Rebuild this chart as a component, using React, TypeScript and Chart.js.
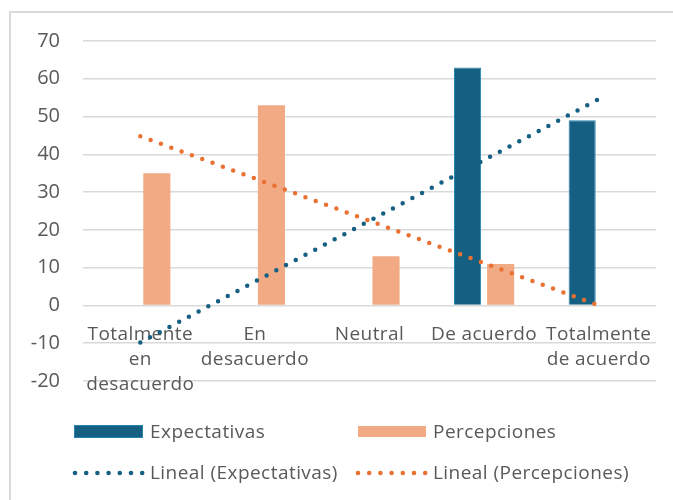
import React, { useEffect, useRef } from "react";
import { Chart, registerables } from "chart.js";

Chart.register(...registerables);

const categories: string[][] = [
  ["Totalmente", "en", "desacuerdo"],
  ["En", "desacuerdo"],
  ["Neutral"],
  ["De acuerdo"],
  ["Totalmente", "de acuerdo"],
];
const expectativas = [0, 0, 0, 63, 49];
const percepciones = [35, 53, 13, 11, 0];
const yMin = -20;
const yMax = 70;
const yStep = 10;

const seriesNames = ["Expectativas", "Percepciones"];
const trendNames = ["Lineal (Expectativas)", "Lineal (Percepciones)"];

const BLUE = "#156082";
const BLUE_BORDER = "#2683b0";
const PEACH = "#F2AA84";
const ORANGE = "#E97132";
const TEXT = "#595959";
const GRID = "#d9d9d9";
const FONT = "'Open Sans', sans-serif";
const FS = 19;

function linearTrend(values: number[]): number[] {
  const n = values.length;
  const xs = values.map((_, i) => i + 1);
  const mx = xs.reduce((a, b) => a + b, 0) / n;
  const my = values.reduce((a, b) => a + b, 0) / n;
  let num = 0;
  let den = 0;
  for (let i = 0; i < n; i++) {
    num += (xs[i] - mx) * (values[i] - my);
    den += (xs[i] - mx) * (xs[i] - mx);
  }
  const slope = num / den;
  const intercept = my - slope * mx;
  return xs.map((x) => intercept + slope * x);
}

const decorPlugin = {
  id: "decor",
  beforeDraw(chart: any) {
    const ctx = chart.ctx;
    ctx.save();
    ctx.strokeStyle = GRID;
    ctx.lineWidth = 2;
    ctx.beginPath();
    ctx.moveTo(10, 500);
    ctx.lineTo(10, 12);
    ctx.lineTo(673, 12);
    ctx.stroke();
    ctx.restore();
  },
  beforeDatasetsDraw(chart: any) {
    const ctx = chart.ctx;
    const x = chart.scales.x;
    const y = chart.scales.y;
    const zero = y.getPixelForValue(0);
    ctx.save();
    ctx.fillStyle = TEXT;
    ctx.font = `${FS}px ${FONT}`;
    (ctx as any).letterSpacing = "0.4px";
    ctx.textAlign = "center";
    ctx.textBaseline = "alphabetic";
    categories.forEach((lines, i) => {
      const cx = x.getPixelForValue(i);
      lines.forEach((line, j) => {
        ctx.fillText(line, cx, zero + 35 + j * 25);
      });
    });
    ctx.restore();
  },
  afterDraw(chart: any) {
    const ctx = chart.ctx;
    ctx.save();
    ctx.font = `${FS}px ${FONT}`;
    (ctx as any).letterSpacing = "0.45px";
    ctx.fillStyle = TEXT;
    ctx.textBaseline = "alphabetic";
    ctx.textAlign = "left";
    // row 1: bar swatches
    ctx.fillStyle = BLUE;
    ctx.fillRect(74, 425, 69, 13);
    ctx.strokeStyle = BLUE_BORDER;
    ctx.lineWidth = 1;
    ctx.strokeRect(74.5, 425.5, 68, 12);
    ctx.fillStyle = PEACH;
    ctx.fillRect(358, 426, 68, 11);
    ctx.fillStyle = TEXT;
    ctx.fillText(seriesNames[0], 150, 438);
    ctx.fillText(seriesNames[1], 433, 438);
    // row 2: dotted swatches
    const dots = (x0: number, color: string) => {
      ctx.fillStyle = color;
      for (let k = 0; k < 7; k++) {
        ctx.beginPath();
        ctx.arc(x0 + k * 11.2, 473, 2.3, 0, Math.PI * 2);
        ctx.fill();
      }
    };
    dots(75, BLUE);
    dots(358, ORANGE);
    ctx.fillStyle = TEXT;
    ctx.fillText(trendNames[0], 150, 479);
    ctx.fillText(trendNames[1], 433, 479);
    ctx.restore();
  },
};

export default function App() {
  const ref = useRef<HTMLCanvasElement | null>(null);
  useEffect(() => {
    if (!ref.current) return;
    const labels = categories.map((c) => c.join(" "));
    const chart = new Chart(ref.current, {
      type: "bar",
      data: {
        labels,
        datasets: [
          {
            type: "line" as const,
            label: trendNames[0],
            data: linearTrend(expectativas),
            borderColor: BLUE,
            borderWidth: 4.5,
            borderDash: [0, 11],
            borderCapStyle: "round",
            pointRadius: 0,
            fill: false,
            order: 0,
          },
          {
            type: "line" as const,
            label: trendNames[1],
            data: linearTrend(percepciones),
            borderColor: ORANGE,
            borderWidth: 4.5,
            borderDash: [0, 11],
            borderCapStyle: "round",
            pointRadius: 0,
            fill: false,
            order: 0,
          },
          {
            label: seriesNames[0],
            data: expectativas,
            backgroundColor: BLUE,
            borderColor: BLUE_BORDER,
            borderWidth: 1,
            categoryPercentage: 0.577,
            barPercentage: 0.82,
            order: 1,
          },
          {
            label: seriesNames[1],
            data: percepciones,
            backgroundColor: PEACH,
            borderWidth: 0,
            categoryPercentage: 0.577,
            barPercentage: 0.82,
            order: 1,
          },
        ],
      } as any,
      options: {
        animation: false,
        responsive: false,
        maintainAspectRatio: false,
        layout: { padding: { left: 0, top: 41, right: 17, bottom: 119 } },
        plugins: {
          legend: { display: false },
          tooltip: { enabled: false },
        },
        scales: {
          x: {
            display: false,
          },
          y: {
            min: yMin,
            max: yMax,
            afterFit: (s: any) => {
              s.width = 83;
            },
            ticks: {
              stepSize: yStep,
              color: TEXT,
              font: { family: FONT, size: 20 },
              padding: 23,
            },
            grid: {
              color: GRID,
              lineWidth: 1.5,
              drawTicks: false,
            },
            border: { display: false },
          },
        },
      } as any,
      plugins: [decorPlugin],
    });
    return () => chart.destroy();
  }, []);
  return (
    <div style={{ position: "fixed", left: 0, top: 0, width: 673, height: 500, background: "#fff" }}>
      <canvas ref={ref} width={673} height={500} style={{ width: 673, height: 500, display: "block" }} />
    </div>
  );
}
